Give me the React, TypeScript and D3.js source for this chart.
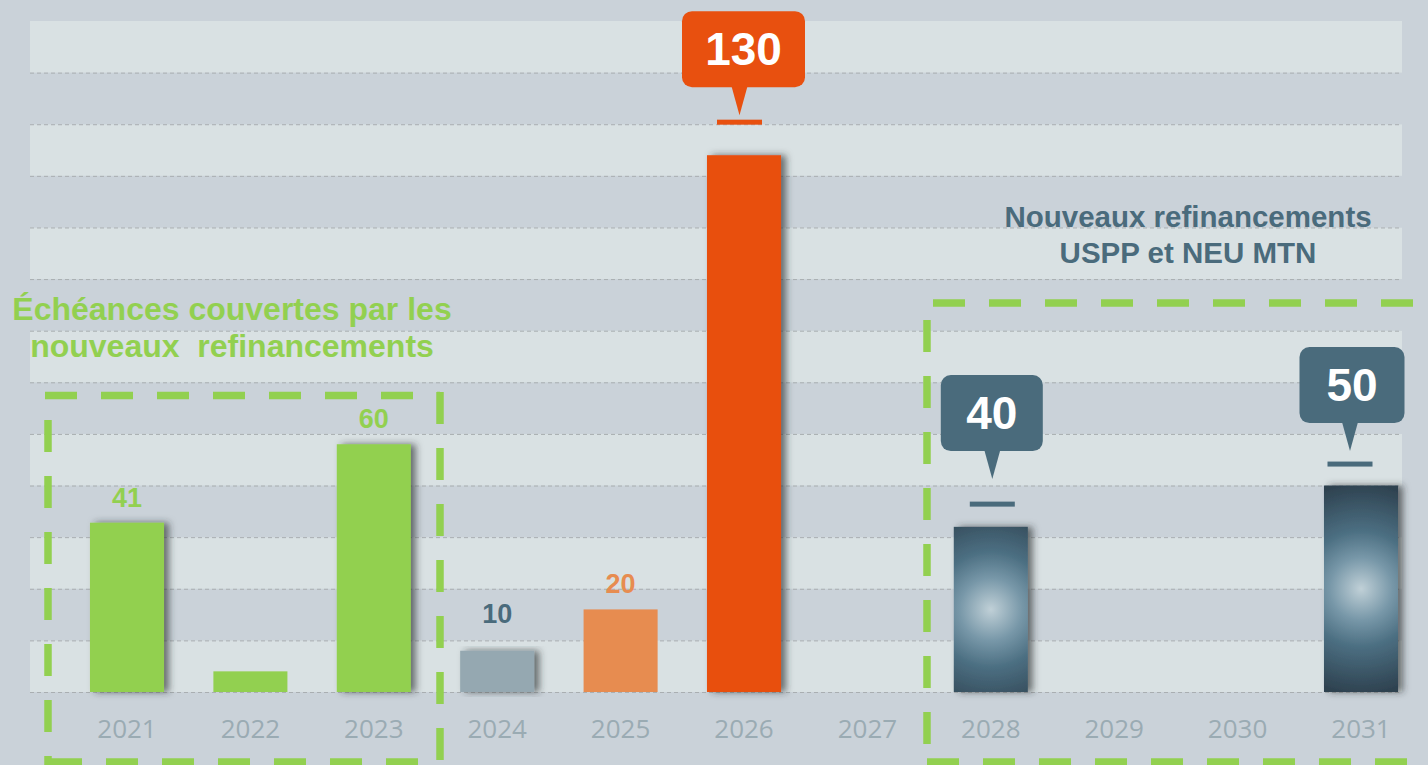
import React from 'react';
import * as d3 from 'd3';

// ---------- data ----------
const years = ['2021', '2022', '2023', '2024', '2025', '2026', '2027', '2028', '2029', '2030', '2031'];
const values = [41, 5, 60, 10, 20, 130, 0, 40, 0, 0, 50];
const labeledYears = ['2021', '2023', '2024', '2025'];
const calloutYears = ['2026', '2028', '2031'];
const calloutMarkers = [138, 45.5, 55.2];
const yMax = 162.5;
const bandStep = 12.5;
const leftTitle = ['Échéances couvertes par les', 'nouveaux  refinancements'];
const rightTitle = ['Nouveaux refinancements', 'USPP et NEU MTN'];

// ---------- styles ----------
const GREEN = '#92d050';
const BLUE = '#4a6b7c';
const fills: Record<string, string> = {
  '2021': GREEN, '2022': GREEN, '2023': GREEN,
  '2024': '#95a8b1', '2025': '#e78c50', '2026': '#e8500f',
  '2028': 'url(#grad-2028)', '2031': 'url(#grad-2031)',
};
const noShadow = ['2022', '2025'];
const labelColors: Record<string, string> = { '2021': GREEN, '2023': GREEN, '2024': BLUE, '2025': '#e78c50' };
const labelGap: Record<string, number> = { '2024': 28 };
const calloutStyle: Record<string, { dx: number; boxDx: number; gap: number; w: number; fill: string }> = {
  '2026': { dx: -4.5, boxDx: -0.5, gap: 7, w: 123, fill: '#e8500f' },
  '2028': { dx: 1.5, boxDx: 1, gap: 25, w: 102, fill: BLUE },
  '2031': { dx: -11, boxDx: -9, gap: 13, w: 105, fill: BLUE },
};

const W = 1428, H = 765;
const plotL = 30, plotR = 1402;

export default function App() {
  const x = d3.scaleBand<string>().domain(years).range([65.3, 1422.7]).paddingInner(0.4).paddingOuter(0.2);
  const y = d3.scaleLinear().domain([0, yMax]).range([692, 21]);
  const nBands = Math.round(yMax / bandStep);
  const bands = d3.range(nBands);
  const grid = d3.range(nBands).map((i) => i * bandStep);
  const bw = x.bandwidth();
  const data = years.map((yr, i) => ({ yr, v: values[i] }));

  const boxH = 76, ptr = 28;

  return (
    <div style={{ position: 'absolute', left: 0, top: 0, width: W, height: H }}>
      <svg width={W} height={H} style={{ display: 'block', fontFamily: '"Liberation Sans", Arial, sans-serif' }}>
        <defs>
          <filter id="shadow" x="-30%" y="-10%" width="170%" height="120%">
            <feDropShadow dx="5" dy="0" stdDeviation="3.5" floodColor="#2a2f33" floodOpacity="0.65" />
          </filter>
          {['2028', '2031'].map((yr) => {
            const v = values[years.indexOf(yr)];
            const cx = (x(yr) as number) + bw / 2;
            const cy = (y(v) + y(0)) / 2;
            return (
              <radialGradient key={yr} id={`grad-${yr}`} gradientUnits="userSpaceOnUse" cx={cx} cy={cy} r={105}>
                <stop offset="0" stopColor="#c0d0d7" />
                <stop offset="0.3" stopColor="#7797a8" />
                <stop offset="0.55" stopColor="#4c6f82" />
                <stop offset="1" stopColor="#2e4250" />
              </radialGradient>
            );
          })}
        </defs>

        <rect x={0} y={0} width={W} height={H} fill="#cad2d9" />

        {/* bands */}
        {bands.map((i) => (
          <rect key={i} x={plotL} width={plotR - plotL} y={y((i + 1) * bandStep)}
            height={y(i * bandStep) - y((i + 1) * bandStep)}
            fill={i % 2 === 0 ? '#d9e1e3' : '#cad2d9'} />
        ))}
        {grid.map((g) => (
          <line key={g} x1={plotL} x2={plotR} y1={y(g) + 0.5} y2={y(g) + 0.5}
            stroke="#a9aeb1" strokeWidth={1} strokeDasharray="4 3" />
        ))}

        {/* bars */}
        {data.filter((d) => d.v > 0).map((d) => (
          <rect key={d.yr} x={x(d.yr)} y={y(d.v)} width={bw} height={y(0) - y(d.v)}
            fill={fills[d.yr]} filter={noShadow.includes(d.yr) ? undefined : 'url(#shadow)'} />
        ))}

        {/* plain labels */}
        {data.filter((d) => labeledYears.includes(d.yr)).map((d) => (
          <text key={d.yr} x={(x(d.yr) as number) + bw / 2} y={y(d.v) - (labelGap[d.yr] ?? 16)}
            textAnchor="middle" fontSize={27} fontWeight="bold" fill={labelColors[d.yr]}>{d.v}</text>
        ))}

        {/* callouts */}
        {calloutYears.map((yr, i) => {
          const s = calloutStyle[yr];
          const v = values[years.indexOf(yr)];
          const c = (x(yr) as number) + bw / 2;
          const my = y(calloutMarkers[i]);
          const tipX = c + s.dx;
          const tipY = my - s.gap;
          const boxBottom = tipY - ptr;
          const boxTop = boxBottom - boxH;
          const bc = c + s.boxDx;
          return (
            <g key={yr}>
              <rect x={tipX - 22.5} y={my - 2.5} width={45} height={5} fill={s.fill} />
              <rect x={bc - s.w / 2} y={boxTop} width={s.w} height={boxH} rx={10} fill={s.fill} />
              <path d={`M${tipX - 8},${boxBottom - 1} L${tipX + 8},${boxBottom - 1} L${tipX},${tipY} Z`} fill={s.fill} />
              <text x={bc} y={boxTop + boxH / 2 + 16} textAnchor="middle" fontSize={46} fontWeight="bold" fill="#ffffff">{v}</text>
            </g>
          );
        })}

        {/* year axis labels */}
        {years.map((yr) => (
          <text key={yr} x={(x(yr) as number) + bw / 2} y={738} textAnchor="middle"
            fontFamily='"Open Sans", sans-serif' fontSize={26} fill="#9aabb3">{yr}</text>
        ))}

        {/* green dashed frames */}
        <g stroke={GREEN} strokeWidth={7.5} strokeDasharray="32 24" fill="none">
          <line x1={45} x2={440} y1={395.5} y2={395.5} />
          <line x1={48} x2={48} y1={420} y2={770} />
          <line x1={440} x2={440} y1={392} y2={770} />
          <line x1={50} x2={440} y1={762} y2={762} />
          <line x1={933} x2={1440} y1={303} y2={303} />
          <line x1={927} x2={927} y1={320} y2={770} />
          <line x1={927} x2={1440} y1={762} y2={762} />
        </g>

        {/* titles */}
        <g fontWeight="bold" fontSize={32} fill={GREEN} textAnchor="middle" style={{ whiteSpace: 'pre' }}>
          {leftTitle.map((t, i) => (
            <text key={i} x={232} y={320 + i * 37} xmlSpace="preserve">{t}</text>
          ))}
        </g>
        <g fontWeight="bold" fontSize={29.5} fill={BLUE} textAnchor="middle">
          {rightTitle.map((t, i) => (
            <text key={i} x={1188} y={227 + i * 36}>{t}</text>
          ))}
        </g>
      </svg>
    </div>
  );
}
